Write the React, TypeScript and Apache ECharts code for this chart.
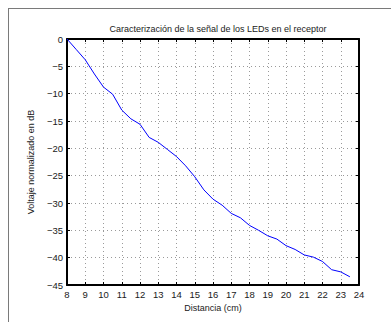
import React, { useEffect, useRef } from "react";
import * as echarts from "echarts";

const titleText = "Caracterización de la señal de los LEDs en el receptor";
const xName = "Distancia (cm)";
const yName = "Voltaje normalizado en dB";
const distance = [8, 8.5, 9, 9.5, 10, 10.5, 11, 11.5, 12, 12.5, 13, 13.5, 14, 14.5, 15, 15.5, 16, 16.5, 17, 17.5, 18, 18.5, 19, 19.5, 20, 20.5, 21, 21.5, 22, 22.5, 23, 23.5];
const voltage = [0, -1.9, -3.8, -6.4, -8.8, -10.1, -13.0, -14.6, -15.6, -18.0, -18.9, -20.2, -21.5, -23.2, -25.2, -27.6, -29.3, -30.4, -31.9, -32.7, -34.1, -35.0, -36.0, -36.6, -37.8, -38.5, -39.5, -39.9, -40.7, -42.2, -42.6, -43.5];

const FONT = "Liberation Sans";
const TXT = "#1a1a1a";

export default function App() {
  const ref = useRef<HTMLDivElement>(null);
  useEffect(() => {
    if (!ref.current) return;
    const chart = echarts.init(ref.current, undefined, { renderer: "svg" });
    const fmt = (v: number) => (v < 0 ? "\u2212" + Math.abs(v) : String(v));
    const gridLine = { show: true, lineStyle: { color: "#9a9a9a", type: [1, 3] as any, width: 1 } };
    const boxLine = { show: true, onZero: false, lineStyle: { color: "#000", width: 2 } };
    const tick = { show: true, inside: true, length: 3, lineStyle: { color: "#000" } };
    chart.setOption({
      animation: false,
      title: {
        text: titleText,
        left: 213,
        top: 19,
        textAlign: "center",
        textStyle: { fontFamily: FONT, fontSize: 9, fontWeight: "normal", color: TXT },
      },
      grid: { left: 67, top: 39, width: 292, height: 246, containLabel: false },
      xAxis: [
        {
          type: "value",
          min: 8,
          max: 24,
          interval: 1,
          position: "bottom",
          name: xName,
          nameLocation: "middle",
          nameGap: 13,
          nameTextStyle: { fontFamily: FONT, fontSize: 9, color: TXT },
          axisLine: boxLine,
          axisTick: tick,
          axisLabel: { fontFamily: FONT, fontSize: 9.5, color: TXT, margin: 4, formatter: fmt },
          splitLine: gridLine,
        },
        {
          type: "value",
          min: 8,
          max: 24,
          interval: 1,
          position: "top",
          axisLine: boxLine,
          axisTick: tick,
          axisLabel: { show: false },
          splitLine: { show: false },
        },
      ],
      yAxis: [
        {
          type: "value",
          min: -45,
          max: 0,
          interval: 5,
          position: "left",
          name: yName,
          nameLocation: "middle",
          nameGap: 14,
          nameTextStyle: { fontFamily: FONT, fontSize: 9, color: TXT },
          axisLine: boxLine,
          axisTick: tick,
          axisLabel: { fontFamily: FONT, fontSize: 9.5, color: TXT, margin: 4, formatter: fmt },
          splitLine: gridLine,
        },
        {
          type: "value",
          min: -45,
          max: 0,
          interval: 5,
          position: "right",
          axisLine: boxLine,
          axisTick: tick,
          axisLabel: { show: false },
          splitLine: { show: false },
        },
      ],
      graphic: [
        { type: "line", shape: { x1: 8.5, y1: 8, x2: 8.5, y2: 322 }, style: { stroke: "#7a7a7a", lineWidth: 1 }, silent: true },
        { type: "line", shape: { x1: 8, y1: 8.5, x2: 391, y2: 8.5 }, style: { stroke: "#7a7a7a", lineWidth: 1 }, silent: true },
      ],
      series: [
        {
          type: "line",
          xAxisIndex: 0,
          yAxisIndex: 0,
          data: distance.map((d, i) => [d, voltage[i]]),
          showSymbol: false,
          lineStyle: { color: "#0000ff", width: 1 },
        },
      ],
    });
    return () => chart.dispose();
  }, []);
  return (
    <div
      ref={ref}
      style={{ position: "fixed", left: 0, top: 0, width: 391, height: 322, background: "#fff" }}
    />
  );
}
